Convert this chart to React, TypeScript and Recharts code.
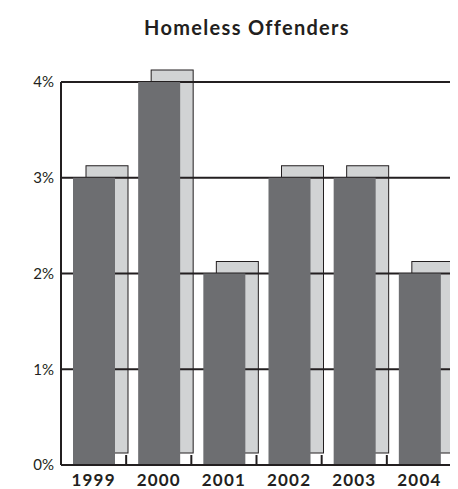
import { Bar, BarChart, CartesianGrid, XAxis, YAxis } from 'recharts';

const years = ['1999', '2000', '2001', '2002', '2003', '2004'];
const percents = [3, 4, 2, 3, 3, 2];
const yTicks = [0, 1, 2, 3, 4];

const data = years.map((year, i) => ({ year, value: percents[i] }));

const FONT = 'Lato, "Open Sans", "Liberation Sans", sans-serif';
const INK = '#231f20';

const CHART_W = 450;
const CHART_H = 481;
const MARGIN = { top: 74, right: 6, left: 0, bottom: 0 };
const Y_AXIS_W = 53;
const PLOT_W = CHART_W - MARGIN.left - MARGIN.right - Y_AXIS_W;
const HALF_BAND = PLOT_W / years.length / 2;

// light grey copy of the bar, pushed up and to the right
function ShadowBar(props: any) {
  const { x, y, width, height } = props;
  if (!height) return null;
  return (
    <rect
      x={x + 13}
      y={y - 12}
      width={width}
      height={height}
      fill="#d1d3d4"
      stroke={INK}
      strokeWidth={1}
    />
  );
}

// year label plus the short upward tick at the right edge of each band
function YearTick(props: any) {
  const { x, y, payload } = props;
  const edge = x + HALF_BAND;
  return (
    <g>
      <path d={`M${edge},${y}V${y - 10}`} stroke={INK} strokeWidth={2} fill="none" />
      <text
        x={x}
        y={y + 21}
        textAnchor="middle"
        fill={INK}
        fontSize={17}
        fontWeight={700}
        letterSpacing={1.2}
        fontFamily={FONT}
      >
        {payload.value}
      </text>
    </g>
  );
}

export default function App() {
  return (
    <div style={{ position: 'relative', width: CHART_W, height: CHART_H }}>
      <div
        style={{
          position: 'absolute',
          top: 7,
          left: 0,
          width: CHART_W,
          paddingLeft: 28,
          boxSizing: 'border-box',
          textAlign: 'center',
          fontFamily: FONT,
          fontWeight: 700,
          fontSize: 20,
          letterSpacing: 1.3,
          color: INK,
        }}
      >
        Homeless Offenders
      </div>
      <BarChart width={CHART_W} height={CHART_H} data={data} margin={MARGIN} barGap={-42}>
        <Bar dataKey="value" barSize={42} shape={ShadowBar} isAnimationActive={false} zIndex={-150} />
        <CartesianGrid vertical={false} stroke={INK} strokeWidth={2} horizontalValues={[1, 2, 3, 4]} />
        <XAxis
          dataKey="year"
          height={24}
          axisLine={{ stroke: INK, strokeWidth: 2 }}
          tickLine={false}
          tickSize={0}
          tickMargin={0}
          tick={YearTick}
          interval={0}
        />
        <YAxis
          width={Y_AXIS_W}
          domain={[0, 4]}
          ticks={yTicks}
          tickFormatter={(v) => `${v}%`}
          axisLine={{ stroke: INK, strokeWidth: 2 }}
          tickLine={false}
          tickSize={0}
          tickMargin={7}
          tick={{ fill: INK, fontSize: 15, fontFamily: FONT }}
        />
        <Bar dataKey="value" barSize={42} fill="#6d6e71" isAnimationActive={false} />
      </BarChart>
    </div>
  );
}
